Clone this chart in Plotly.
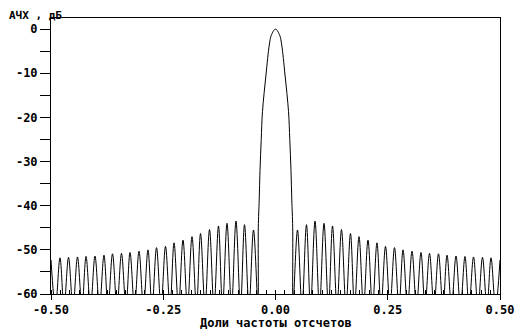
import plotly.graph_objects as go

# ---- data (positive-frequency half; curve is symmetric) ----
main_lobe_f = [0.0, 0.0093, 0.0138, 0.0212, 0.029, 0.0318, 0.0345, 0.0363, 0.0383]
main_lobe_db = [0.0, -1.4, -3.6, -10.4, -18.7, -25.0, -32.0, -38.7, -45.0]

null_f = [0.039, 0.059, 0.078, 0.098, 0.118, 0.137, 0.157, 0.176, 0.196, 0.216,
          0.235, 0.255, 0.275, 0.294, 0.314, 0.333, 0.353, 0.373, 0.392, 0.412,
          0.431, 0.451, 0.471, 0.490]
null_db = [-63.0] * len(null_f)

peak_f = [0.049, 0.069, 0.088, 0.108, 0.127, 0.147, 0.167, 0.186, 0.206, 0.226,
          0.245, 0.265, 0.284, 0.304, 0.324, 0.343, 0.363, 0.382, 0.402, 0.422,
          0.441, 0.461, 0.480, 0.500]
peak_db = [-45.5, -44.3, -43.5, -44.0, -44.6, -45.4, -46.3, -47.0, -47.8, -48.4,
           -49.2, -49.5, -50.0, -50.3, -50.6, -50.8, -50.9, -51.2, -51.4, -51.5,
           -51.6, -51.7, -51.8, -52.3]

x_tick_vals = [-0.5, -0.25, 0.0, 0.25, 0.5]
x_tick_text = ["-0.50", "-0.25", "0.00", "0.25", "0.50"]
y_tick_vals = [0, -10, -20, -30, -40, -50, -60]
y_tick_text = ["0", "-10", "-20", "-30", "-40", "-50", "-60"]

# ---- assemble the symmetric curve ----
half = sorted(zip(main_lobe_f + null_f + peak_f, main_lobe_db + null_db + peak_db))
pos = [p for p in half if p[0] > 0]
neg = [(-f, v) for f, v in reversed(pos)]
pts = neg + [p for p in half if p[0] == 0] + pos
xs = [p[0] for p in pts]
ys = [p[1] for p in pts]

FONT = dict(family="DejaVu Sans Mono", size=12, color="black", weight="bold")
TITLE_FONT = dict(family="DejaVu Sans Mono", size=11, color="black", weight="bold")

fig = go.Figure()
fig.add_trace(go.Scatter(x=xs, y=ys, mode="lines",
                         line=dict(color="black", width=1, shape="spline", smoothing=1.0),
                         hoverinfo="skip", showlegend=False))

# page body has an 8px margin, so the figure is sized/margined to compensate
fig.update_layout(
    width=519, height=323,
    margin=dict(l=43, r=27, t=10, b=37, autoexpand=False),
    paper_bgcolor="white", plot_bgcolor="white",
    font=FONT,
    showlegend=False,
)
fig.update_xaxes(
    range=[-0.5, 0.5], showgrid=False, zeroline=False,
    showline=True, linecolor="black", linewidth=1, mirror=True,
    tickmode="array", tickvals=x_tick_vals, ticktext=x_tick_text,
    ticks="outside", ticklen=5, tickcolor="black", tickwidth=1,
    tickfont=FONT,
    minor=dict(ticks="inside", ticklen=4, dtick=0.0208333, tick0=0, tickcolor="black", showgrid=False),
)
fig.update_yaxes(
    range=[-60, 2.5], showgrid=False, zeroline=False,
    showline=True, linecolor="black", linewidth=1, mirror=True,
    tickmode="array", tickvals=y_tick_vals, ticktext=y_tick_text,
    ticks="outside", ticklen=10, tickcolor="black", tickwidth=1,
    tickfont=FONT,
    minor=dict(ticks="outside", ticklen=10, dtick=5, tick0=0, tickcolor="black", showgrid=False),
)

fig.add_annotation(text="АЧХ , дБ", xref="paper", yref="paper",
                   x=-(51 - 8) / 449, y=1 + 10 / 276,
                   xanchor="left", yanchor="top", showarrow=False, font=TITLE_FONT,
                   borderpad=0)
fig.add_annotation(text="Доли частоты отсчетов", xref="paper", yref="paper",
                   x=0.5, y=-(323 - 294) / 276,
                   xanchor="center", yanchor="middle", showarrow=False, font=FONT)

fig.write_html("out.html")
